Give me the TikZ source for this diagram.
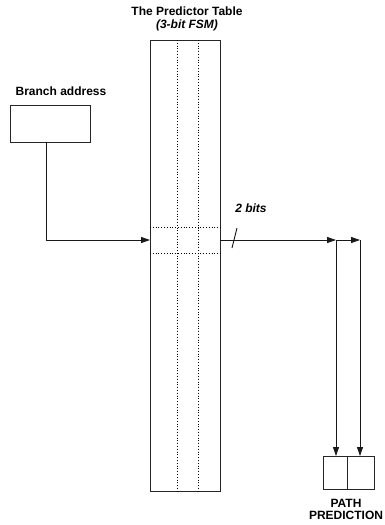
\documentclass[tikz,border=0pt]{standalone}
\usepackage{fontspec}
\setmainfont{Liberation Sans}
\usetikzlibrary{arrows.meta,calc}
\begin{document}
\begin{tikzpicture}[x=1pt,y=-1pt,
  lbl/.style={font=\fontsize{12}{12}\selectfont\bfseries, inner sep=0pt},
  lbli/.style={font=\fontsize{12}{12}\selectfont\bfseries\itshape, inner sep=0pt},
  boxx/.style={draw=black!85, line width=0.9pt, inner sep=0pt, minimum width=#1},
  conn/.style={draw=black!90, line width=0.9pt},
  arr/.style={conn, -{Triangle[length=9pt,width=6pt]}},
  dots/.style={draw=black, line width=0.8pt, dotted}
]
\useasboundingbox (0,0) rectangle (384,525);
% title
\node[lbl] (t1) at (187,11) {The Predictor Table};
\node[lbli] (t2) at (187,25) {(3-bit FSM)};
% predictor table
\node[boxx=70, minimum height=451] (tab) at (185,265.5) {};
\coordinate (c1t) at (177,40); \coordinate (c1b) at (177,491);
\coordinate (c2t) at (198,40); \coordinate (c2b) at (198,491);
\draw[dots] (c1t) -- (c1b);
\draw[dots] (c2t) -- (c2b);
\coordinate (r1l) at (150,227); \coordinate (r1r) at (221,227);
\coordinate (r2l) at (150,253); \coordinate (r2r) at (221,253);
\draw[dots] (r1l) -- (r1r);
\draw[dots] (r2l) -- (r2r);
% branch address
\node[lbl] (bl) at (61,91) {Branch address};
\node[boxx=80, minimum height=37] (bb) at (50,123.5) {};
\coordinate (bend) at (46,240);
\coordinate (bstart) at (46,142);
\coordinate (tin) at (150,240);
\draw[conn] (bstart) -- (bend);
\draw[arr] (bend) -- (tin);
% output
\coordinate (tout) at (220,240);
\coordinate (j1) at (336,240);
\coordinate (j2) at (360,240);
\draw[arr] (tout) -- (j1);
\draw[arr] (j1) -- (j2);
\coordinate (s1) at (237,228); \coordinate (s2) at (232,248);
\draw[conn] (s1) -- (s2);
\node[lbli] (bits) at (251,208) {2 bits};
% path prediction box
\node[boxx=24, minimum height=33] (p1) at (335,472.5) {};
\node[boxx=27, minimum height=33] (p2) at (360.5,472.5) {};
\draw[arr] (j1) -- (336,456);
\draw[arr] (j2) -- (360,456);
\node[lbl, align=center] (pl) at (346,509.5) {PATH\\[0pt]PREDICTION};
\end{tikzpicture}
\end{document}
